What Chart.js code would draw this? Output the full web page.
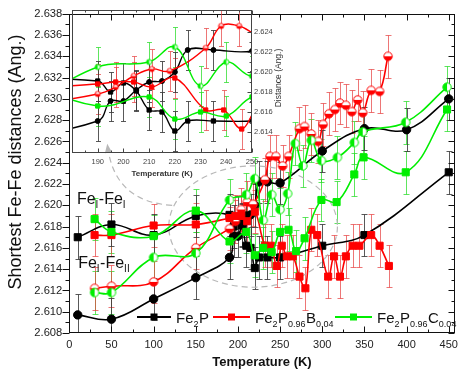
<!DOCTYPE html>
<html>
<head>
<meta charset="utf-8">
<script src="https://cdn.jsdelivr.net/npm/chart.js"></script>
<style>
  html, body { margin: 0; padding: 0; background: #fff; }
  #wrap { position: relative; width: 463px; height: 371px; }
  #main { position: absolute; left: 0; top: 0; }
  #inset { position: absolute; left: 40px; top: 0; }
</style>
</head>
<body>
<div id="wrap">
  <canvas id="main" width="463" height="371"></canvas>
  <canvas id="inset" width="260" height="185"></canvas>
</div>
<script>
// tick labels
const xTicks = [0, 50, 100, 150, 200, 250, 300, 350, 400, 450];
const yTicks = [2.608, 2.610, 2.612, 2.614, 2.616, 2.618, 2.620, 2.622, 2.624, 2.626, 2.628, 2.630, 2.632, 2.634, 2.636, 2.638];
const insetXTicks = [180, 190, 200, 210, 220, 230, 240, 250];
const insetYTicks = [2.614, 2.616, 2.618, 2.620, 2.622, 2.624];

// Fe2P : FeI-FeI (squares) and FeI-FeII (circles)
const fe2pT1 = [10, 50, 100, 150, 190, 195, 200, 205, 210, 215, 220, 225, 235, 250, 300, 350, 450];
const fe2pD1 = [2.6170, 2.6182, 2.6172, 2.6190, 2.6191, 2.6180, 2.6189, 2.6181, 2.6162, 2.6160, 2.6141, 2.6151, 2.6151, 2.6151, 2.6162, 2.6172, 2.6231];
const fe2pT2 = [10, 50, 100, 150, 190, 195, 200, 205, 210, 215, 220, 225, 235, 250, 300, 350, 400, 450];
const fe2pD2 = [2.6097, 2.6093, 2.6112, 2.6132, 2.6151, 2.6171, 2.6171, 2.6182, 2.6190, 2.6191, 2.6200, 2.6222, 2.6222, 2.6221, 2.6251, 2.6272, 2.6271, 2.6300];

// Fe2P0.96B0.04
const bT1 = [30, 50, 100, 150, 190, 197, 204, 211, 220, 232, 239, 246, 252, 258, 265, 273, 280, 287, 294, 307, 314, 321, 328, 336, 344, 358, 368, 379];
const bD1 = [2.6172, 2.6172, 2.6181, 2.6182, 2.6188, 2.6190, 2.6190, 2.6185, 2.6194, 2.6162, 2.6162, 2.6143, 2.6162, 2.6152, 2.6152, 2.6133, 2.6122, 2.6177, 2.6172, 2.6133, 2.6152, 2.6133, 2.6152, 2.6162, 2.6162, 2.6172, 2.6162, 2.6143];
const bT2 = [30, 50, 100, 150, 190, 197, 204, 211, 218, 232, 238, 245, 253, 260, 273, 279, 287, 295, 301, 308, 315, 321, 328, 335, 342, 348, 358, 368, 378];
const bD2 = [2.6122, 2.6124, 2.6128, 2.6160, 2.6178, 2.6185, 2.6196, 2.6203, 2.6201, 2.6224, 2.6246, 2.6246, 2.6237, 2.6246, 2.6272, 2.6274, 2.6267, 2.6260, 2.6276, 2.6286, 2.6290, 2.6296, 2.6294, 2.6288, 2.6299, 2.6287, 2.6308, 2.6307, 2.6340];

// Fe2P0.96C0.04
const cT1 = [30, 50, 100, 150, 190, 210, 220, 230, 240, 250, 260, 269, 279, 299, 317, 338, 349, 399, 448];
const cD1 = [2.6187, 2.6175, 2.6171, 2.6195, 2.6166, 2.6175, 2.6153, 2.6160, 2.6156, 2.6175, 2.6177, 2.6157, 2.6169, 2.6205, 2.6203, 2.6229, 2.6245, 2.6231, 2.6290];
const cT2 = [30, 50, 100, 150, 190, 210, 220, 230, 240, 250, 259, 268, 277, 287, 299, 318, 338, 348, 399, 448];
const cD2 = [2.6118, 2.6118, 2.6151, 2.6155, 2.6205, 2.6210, 2.6225, 2.6186, 2.6210, 2.6196, 2.6211, 2.6258, 2.6237, 2.6261, 2.6242, 2.6245, 2.6259, 2.6269, 2.6278, 2.6311];

// error bar half-height
const errFe2P = 0.002;
const errB = 0.002;
const errC = 0.002;

const FONT = "'Liberation Sans', Arial, sans-serif";
const BLACK = '#000000', RED = '#ff0000', GREEN = '#00ee00';

function pts(t, d) { return t.map((v, i) => ({x: v, y: d[i]})); }

function halfMarker(color, r, side) {
  const s = Math.ceil(2 * r + 3);
  const c = document.createElement('canvas');
  c.width = s; c.height = s;
  const g = c.getContext('2d');
  const m = s / 2;
  g.beginPath(); g.arc(m, m, r, 0, Math.PI * 2); g.fillStyle = '#fff'; g.fill();
  g.beginPath();
  if (side === 'bottom') g.arc(m, m, r, 0, Math.PI);
  else g.arc(m, m, r, Math.PI / 2, Math.PI * 1.5);
  g.closePath(); g.fillStyle = color; g.fill();
  g.beginPath(); g.arc(m, m, r, 0, Math.PI * 2); g.lineWidth = 1; g.strokeStyle = color; g.stroke();
  return c;
}

function makeSets(small) {
  const sq = small ? 3 : 5, ci = small ? 2.5 : 4.2, hr = small ? 2.6 : 4.2;
  const lw = small ? 1.4 : 1.6;
  const base = {borderWidth: lw, tension: 0.4, fill: false, pointBorderWidth: 1};
  return [
    Object.assign({}, base, {data: pts(cT1, cD1), borderColor: GREEN, backgroundColor: GREEN, pointStyle: 'rect', pointRadius: sq, err: errC, errColor: 'rgba(40,220,40,0.75)'}),
    Object.assign({}, base, {data: pts(cT2, cD2), borderColor: GREEN, backgroundColor: GREEN, pointStyle: halfMarker(GREEN, hr, 'left'), pointRadius: hr, err: errC, errColor: 'rgba(40,220,40,0.75)'}),
    Object.assign({}, base, {data: pts(bT1, bD1), borderColor: RED, backgroundColor: RED, pointStyle: 'rect', pointRadius: sq, err: errB, errColor: 'rgba(230,60,60,0.7)'}),
    Object.assign({}, base, {data: pts(bT2, bD2), borderColor: RED, backgroundColor: RED, pointStyle: halfMarker(RED, hr, 'bottom'), pointRadius: hr, err: errB, errColor: 'rgba(230,60,60,0.7)'}),
    Object.assign({}, base, {data: pts(fe2pT1, fe2pD1), borderColor: BLACK, backgroundColor: BLACK, pointStyle: 'rect', pointRadius: sq, err: errFe2P, errColor: 'rgba(60,60,60,0.85)'}),
    Object.assign({}, base, {data: pts(fe2pT2, fe2pD2), borderColor: BLACK, backgroundColor: BLACK, pointStyle: 'circle', pointRadius: ci, err: errFe2P, errColor: 'rgba(60,60,60,0.85)'})
  ];
}

// error bars drawn through the chart scales
const errorBars = {
  id: 'errorBars',
  beforeDatasetsDraw(chart, args, opts) {
    const {ctx, chartArea: a, scales: {x, y}} = chart;
    ctx.save();
    ctx.beginPath(); ctx.rect(a.left, a.top, a.width, a.height); ctx.clip();
    ctx.lineWidth = 1;
    chart.data.datasets.forEach(ds => {
      ctx.strokeStyle = ds.errColor;
      ds.data.forEach(p => {
        const px = Math.round(x.getPixelForValue(p.x)) + 0.5;
        const y1 = Math.round(y.getPixelForValue(p.y - ds.err)) + 0.5;
        const y2 = Math.round(y.getPixelForValue(p.y + ds.err)) + 0.5;
        ctx.beginPath();
        ctx.moveTo(px, y1); ctx.lineTo(px, y2);
        ctx.moveTo(px - opts.cap, y1); ctx.lineTo(px + opts.cap, y1);
        ctx.moveTo(px - opts.cap, y2); ctx.lineTo(px + opts.cap, y2);
        ctx.stroke();
      });
    });
    ctx.restore();
  }
};

function mids(arr) {
  const out = [];
  for (let i = 0; i < arr.length - 1; i++) out.push((arr[i] + arr[i + 1]) / 2);
  return out;
}

// frame with tick marks on all four sides
const frame = {
  id: 'frame',
  afterDatasetsDraw(chart, args, o) {
    const {ctx, chartArea: a, scales: {x, y}} = chart;
    ctx.save();
    ctx.strokeStyle = o.color; ctx.lineWidth = 1;
    const L = Math.round(a.left) + 0.5, R = Math.round(a.right) - 0.5;
    const T = Math.round(a.top) + 0.5, B = Math.round(a.bottom) - 0.5;
    ctx.strokeRect(L, T, R - L, B - T);
    ctx.beginPath();
    const xs = [[o.xTicks, o.major], [mids(o.xTicks), o.minor]];
    xs.forEach(([vals, len]) => vals.forEach(v => {
      if (v < x.min || v > x.max) return;
      const px = Math.round(x.getPixelForValue(v)) + 0.5;
      ctx.moveTo(px, B); ctx.lineTo(px, B - len);
      ctx.moveTo(px, T); ctx.lineTo(px, T + len);
    }));
    const ys = [[o.yTicks, o.major], [mids(o.yTicks), o.minor]];
    ys.forEach(([vals, len]) => vals.forEach(v => {
      if (v < y.min || v > y.max) return;
      const py = Math.round(y.getPixelForValue(v)) + 0.5;
      if (o.leftOut) { ctx.moveTo(L, py); ctx.lineTo(L - len - 1, py); }
      else if (o.left) { ctx.moveTo(L, py); ctx.lineTo(L + len, py); }
      ctx.moveTo(R, py); ctx.lineTo(R - len, py);
    }));
    ctx.stroke();
    ctx.restore();
  }
};

function drawParts(ctx, parts, x, y, big, small, drop) {
  parts.forEach(([txt, sub]) => {
    ctx.font = (sub ? small : big) + 'px ' + FONT;
    ctx.fillText(txt, x, sub ? y + drop : y);
    x += ctx.measureText(txt).width + (sub ? 0.5 : 0);
  });
  return x;
}

// annotations, legend and axis titles of the main chart
const mainDecor = {
  id: 'mainDecor',
  beforeDatasetsDraw(chart) {
    const {ctx, scales: {x, y}} = chart;
    ctx.save();
    ctx.strokeStyle = '#b8b8b8'; ctx.lineWidth = 1.2; ctx.setLineDash([6, 4]);
    const cx = x.getPixelForValue(218), cy = y.getPixelForValue(2.618);
    const rx = x.getPixelForValue(318) - cx, ry = cy - y.getPixelForValue(2.6237);
    ctx.beginPath(); ctx.ellipse(cx, cy, rx, ry, 0, 0, Math.PI * 2); ctx.stroke();
    const sx = x.getPixelForValue(122), sy = y.getPixelForValue(2.6200);
    const qx = x.getPixelForValue(54), qy = y.getPixelForValue(2.6203);
    const ex = x.getPixelForValue(45.5), ey = y.getPixelForValue(2.6255);
    ctx.beginPath(); ctx.moveTo(sx, sy); ctx.quadraticCurveTo(qx, qy, ex, ey); ctx.stroke();
    ctx.setLineDash([]);
    const ang = Math.atan2(ey - qy, ex - qx);
    ctx.fillStyle = '#b8b8b8';
    ctx.beginPath();
    ctx.moveTo(ex + Math.cos(ang) * 3, ey + Math.sin(ang) * 3);
    ctx.lineTo(ex + Math.cos(ang + 2.6) * 7, ey + Math.sin(ang + 2.6) * 7);
    ctx.lineTo(ex + Math.cos(ang - 2.6) * 7, ey + Math.sin(ang - 2.6) * 7);
    ctx.closePath(); ctx.fill();
    ctx.restore();
  },
  afterDraw(chart) {
    const {ctx, chartArea: a, scales: {x, y}} = chart;
    ctx.save();
    ctx.fillStyle = '#111';
    ctx.textBaseline = 'alphabetic'; ctx.textAlign = 'left';
    drawParts(ctx, [['Fe', 0], ['I', 1], ['-Fe', 0], ['I', 1]], x.getPixelForValue(9), y.getPixelForValue(2.6201), 16, 10, 4);
    drawParts(ctx, [['Fe', 0], ['I', 1], ['-Fe', 0], ['II', 1]], x.getPixelForValue(10.5), y.getPixelForValue(2.6141), 16, 10, 4);

    // legend
    const ly = 317;
    const items = [
      [BLACK, 137, 171, [['Fe', 0], ['2', 1], ['P', 0]]],
      [RED, 213, 250, [['Fe', 0], ['2', 1], ['P', 0], ['0.96', 1], ['B', 0], ['0.04', 1]]],
      [GREEN, 335, 372, [['Fe', 0], ['2', 1], ['P', 0], ['0.96', 1], ['C', 0], ['0.04', 1]]]
    ];
    items.forEach(([col, x0, x1, parts]) => {
      ctx.strokeStyle = col; ctx.lineWidth = 1.8;
      ctx.beginPath(); ctx.moveTo(x0, ly); ctx.lineTo(x1, ly); ctx.stroke();
      ctx.fillStyle = col; ctx.fillRect((x0 + x1) / 2 - 3.5, ly - 3.5, 7, 7);
      ctx.fillStyle = '#111';
      drawParts(ctx, parts, x1 + 5, ly + 5.5, 15, 9, 4);
    });

    // axis titles
    ctx.fillStyle = '#111';
    ctx.textAlign = 'center';
    ctx.font = 'bold 13px ' + FONT;
    ctx.fillText('Temperature (K)', (a.left + a.right) / 2, 366);
    ctx.save();
    ctx.translate(20.5, 162); ctx.rotate(-Math.PI / 2);
    ctx.font = '18px ' + FONT;
    ctx.fillText('Shortest Fe-Fe distances (Ang.)', 0, 0);
    ctx.restore();
    ctx.restore();
  }
};

const insetDecor = {
  id: 'insetDecor',
  afterDraw(chart) {
    const {ctx, chartArea: a} = chart;
    ctx.save();
    ctx.fillStyle = '#333';
    ctx.textAlign = 'center';
    ctx.font = 'bold 8px ' + FONT;
    ctx.fillText('Temperature (K)', (a.left + a.right) / 2, 176);
    ctx.translate(241, 78); ctx.rotate(-Math.PI / 2);
    ctx.font = '8.5px ' + FONT;
    ctx.fillText('Distance (Ang.)', 0, 0);
    ctx.restore();
  }
};

new Chart(document.getElementById('main'), {
  type: 'line',
  data: {datasets: makeSets(false)},
  plugins: [errorBars, frame, mainDecor],
  options: {
    responsive: false,
    animation: false,
    events: [],
    layout: {padding: {left: 0, right: 5, top: 8, bottom: 0}},
    plugins: {
      legend: {display: false},
      tooltip: {enabled: false},
      errorBars: {cap: 3},
      frame: {color: '#111', xTicks: xTicks, yTicks: yTicks, major: 6, minor: 3, leftOut: true}
    },
    scales: {
      x: {
        type: 'linear', min: 0, max: 457,
        grid: {display: false, drawTicks: false}, border: {display: false},
        afterBuildTicks: s => { s.ticks = xTicks.map(v => ({value: v})); },
        afterFit: s => { s.height = 38; },
        ticks: {padding: 5, autoSkip: false, maxRotation: 0, color: '#222', font: {family: FONT, size: 11}}
      },
      y: {
        type: 'linear', min: 2.608, max: 2.638,
        grid: {display: false, drawTicks: false}, border: {display: false},
        afterBuildTicks: s => { s.ticks = yTicks.map(v => ({value: v})); },
        afterFit: s => { s.width = 69.3; },
        ticks: {padding: 7, autoSkip: false, color: '#222', font: {family: FONT, size: 11.2}, callback: v => v.toFixed(3)}
      }
    }
  }
});

new Chart(document.getElementById('inset'), {
  type: 'line',
  data: {datasets: makeSets(true)},
  plugins: [errorBars, frame, insetDecor],
  options: {
    responsive: false,
    animation: false,
    events: [],
    layout: {padding: {left: 32, right: 0, top: 10, bottom: 0}},
    plugins: {
      legend: {display: false},
      tooltip: {enabled: false},
      errorBars: {cap: 2.5},
      frame: {color: '#444', xTicks: insetXTicks, yTicks: insetYTicks, major: 4, minor: 2, left: false}
    },
    scales: {
      x: {
        type: 'linear', min: 180, max: 250,
        grid: {display: false, drawTicks: false}, border: {display: false},
        afterBuildTicks: s => { s.ticks = insetXTicks.map(v => ({value: v})); },
        afterFit: s => { s.height = 32; },
        ticks: {padding: 4, autoSkip: false, maxRotation: 0, color: '#444', font: {family: FONT, size: 7.5}, callback: v => v === 180 ? '' : v}
      },
      y: {
        type: 'linear', position: 'right', min: 2.6119, max: 2.6262,
        grid: {display: false, drawTicks: false}, border: {display: false},
        afterBuildTicks: s => { s.ticks = insetYTicks.map(v => ({value: v})); },
        afterFit: s => { s.width = 48; },
        ticks: {padding: 2, autoSkip: false, color: '#444', font: {family: FONT, size: 7.5}, callback: v => v.toFixed(3)}
      }
    }
  }
});
</script>
</body>
</html>
